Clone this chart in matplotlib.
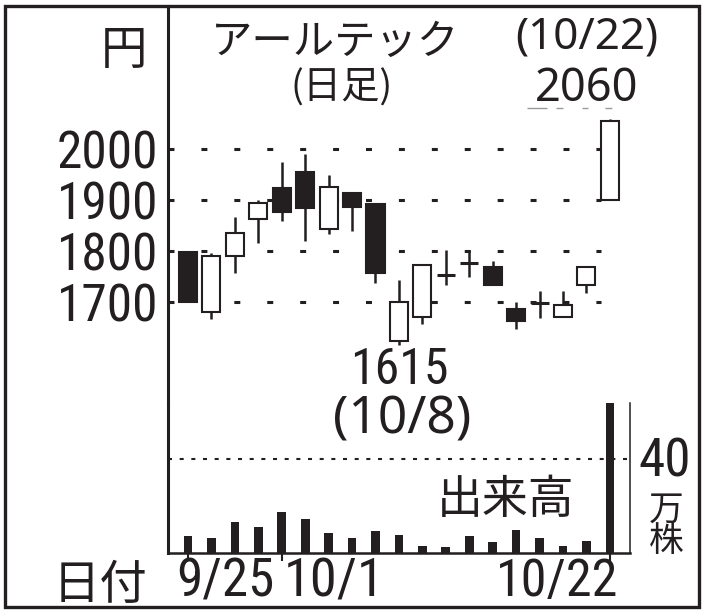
import numpy as np
import matplotlib
matplotlib.use("Agg")
import matplotlib.pyplot as plt
from matplotlib import font_manager
from matplotlib.font_manager import FontProperties
from matplotlib.textpath import TextPath
from matplotlib.patches import Rectangle

# daily candles, 9/25 .. 10/22
dates = ["9/25", "9/28", "9/29", "9/30", "10/1", "10/2", "10/5", "10/6", "10/7", "10/8",
         "10/9", "10/13", "10/14", "10/15", "10/16", "10/19", "10/20", "10/21", "10/22"]
opens = [1797, 1679, 1790, 1863, 1923, 1955, 1843, 1914, 1892, 1623,
         1669, 1753, 1776, 1768, 1685, 1698, 1669, 1732, 1900]
closes = [1700, 1790, 1834, 1893, 1877, 1883, 1925, 1886, 1757, 1699,
          1772, 1753, 1776, 1732, 1662, 1698, 1693, 1768, 2056]
highs = [1800, 1796, 1867, 1900, 1974, 1990, 1948, 1914, 1892, 1742,
         1772, 1801, 1801, 1780, 1700, 1720, 1720, 1768, 2060]
lows = [1700, 1665, 1757, 1816, 1858, 1820, 1833, 1839, 1737, 1615,
        1656, 1732, 1749, 1732, 1645, 1668, 1669, 1716, 1900]
volume = [7.1, 6.2, 13.2, 11.3, 17.3, 14.6, 8.5, 6.4, 9.2, 7.8,
          3.1, 2.4, 7.1, 4.5, 9.8, 6.4, 3.1, 5.0, 63.8]   # 万株

price_ticks = [1700, 1800, 1900, 2000]
vol_tick = 40
date_labels = ["9/25", "10/1", "10/22"]

INK = "#231f20"
CJK = "Noto Sans CJK JP"
HUMAN = "Noto Sans"
plt.rcParams["lines.scale_dashes"] = False

installed = {f.name for f in font_manager.fontManager.ttflist}
NARROW = next((f for f in ["Roboto Condensed", "PT Sans Narrow", "Archivo Narrow",
                           "Fira Sans Condensed"] if f in installed), "DejaVu Sans")


def ink(s, family):
    # ink box of s at em = 100
    e = TextPath((0, 0), s, size=100, prop=FontProperties(family=family)).get_extents()
    return e.x0, e.y0, e.x1, e.y1


W, H = 708, 614
fig = plt.figure(figsize=(W / 100, H / 100), dpi=100)


def box(x0, y0, x1, y1):
    # pixel box (top-left origin) -> figure fraction rect
    return [x0 / W, 1 - y1 / H, (x1 - x0) / W, (y1 - y0) / H]


def fx(x):
    return x / W


def fy(y):
    return 1 - y / H


def digit_size(family, h):
    a = ink("0", family)
    return h * 72 / (a[3] - a[1])


def put(s, family, x0, y0, x1, y1, wt=0.5):
    # fit the ink of s into the pixel box (weighted mean of width / height fits)
    a = ink(s, family)
    sw = (x1 - x0) * 72 / (a[2] - a[0])
    sh = (y1 - y0) * 72 / (a[3] - a[1])
    size = sw ** wt * sh ** (1 - wt)
    k = size / 72
    cx, cy = (x0 + x1) / 2, (y0 + y1) / 2
    xa = cx - (a[0] + a[2]) / 2 * k
    yb = cy + (a[1] + a[3]) / 2 * k
    fig.text(fx(xa), fy(yb), s, ha="left", va="baseline", fontsize=size,
             family=family, color=INK)


x = np.arange(len(dates))
xlim = (-0.854, 18.86)

# ---- price panel
ax = fig.add_axes(box(168, 6, 630, 403))
ax.set_xlim(*xlim)
ax.set_ylim(1500.4, 2281.3)
for s in ["top", "right", "bottom"]:
    ax.spines[s].set_visible(False)
ax.spines["left"].set_linewidth(2.2)
ax.spines["left"].set_color(INK)
ax.set_xticks([])
ax.set_yticks(price_ticks)
a0 = ink("2000", NARROW)
tick_size = np.sqrt(digit_size(NARROW, 38) * 95 * 72 / (a0[2] - a0[0]))
ax.set_yticklabels([str(p) for p in price_ticks], fontsize=tick_size,
                   family=NARROW, color=INK)
ax.tick_params(axis="y", length=0, pad=7)

for p in price_ticks:
    ax.plot([xlim[0], 17.62], [p, p], color=INK, lw=2.2, ls=(0, (4.3, 19.4)),
            dash_capstyle="butt", zorder=1)

o = np.array(opens)
c = np.array(closes)
ax.vlines(x, lows, highs, color=INK, lw=1.8, zorder=2)
body = c != o
fill = [INK if cc < oo else "white" for oo, cc in zip(o[body], c[body])]
ax.bar(x[body], np.abs(c - o)[body], bottom=np.minimum(o, c)[body], width=0.77,
       color=fill, edgecolor=INK, linewidth=1.5, zorder=3)
ax.hlines(o[~body], x[~body] - 0.385, x[~body] + 0.385, color=INK, lw=2.2, zorder=3)

# ---- volume panel
ax2 = fig.add_axes(box(168, 403, 630, 553))
ax2.set_xlim(*xlim)
ax2.set_ylim(0, 64)
ax2.spines["top"].set_visible(False)
ax2.spines["left"].set_linewidth(2.2)
ax2.spines["bottom"].set_linewidth(1.8)
ax2.spines["right"].set_linewidth(1.1)
for s in ["left", "bottom", "right"]:
    ax2.spines[s].set_color(INK)
ax2.bar(x, volume, width=0.37, color=INK, zorder=3)
ax2.plot([xlim[0], xlim[1]], [vol_tick, vol_tick], color=INK, lw=1.5, ls=(0, (2.9, 5.5)),
         dash_capstyle="butt", zorder=1)
ax2.set_yticks([])
ax2.set_xticks([dates.index(d) for d in date_labels])
ax2.set_xticklabels([])
ax2.tick_params(axis="x", direction="out", length=6, width=1.5, color=INK)

put(date_labels[0], NARROW, 180, 558, 272, 600)
put(date_labels[1], NARROW, 287, 558, 375, 600)
put(date_labels[2], NARROW, 502, 558, 615, 600)

# ---- labels
put("円", CJK, 106, 27, 143, 68)
put("アールテック", CJK, 223, 18, 447, 60, wt=0.7)
put("(日足)", CJK, 292, 68, 392, 105)
put("(10/22)", HUMAN, 513, 18, 660, 55)
put(str(highs[-1]), HUMAN, 538, 68, 635, 102)
fig.add_artist(plt.Line2D([fx(527), fx(613)], [fy(108), fy(108)], color="#9a9a9a", lw=1,
                          ls=(0, (14.4, 6.5, 5, 13.7, 4.3, 12.2, 5, 10))))
put(str(lows[9]), NARROW, 355, 348, 445, 385)
put("(10/8)", HUMAN, 337, 395, 467, 442)
put("日付", CJK, 60, 560, 147, 602)
put("出来高", CJK, 442, 475, 572, 517)
put(str(vol_tick), NARROW, 640, 438, 688, 477)
fig.text(fx(666), fy(526), "万\n株", ha="center", va="center", fontsize=25,
         linespacing=0.85, family=CJK, color=INK)

# outer frame
fig.add_artist(Rectangle((fx(5), fy(607)), fx(699) - fx(5), fy(6) - fy(607),
                         fill=False, lw=2.4, edgecolor=INK, transform=fig.transFigure))

fig.savefig("out.png", dpi=100)
